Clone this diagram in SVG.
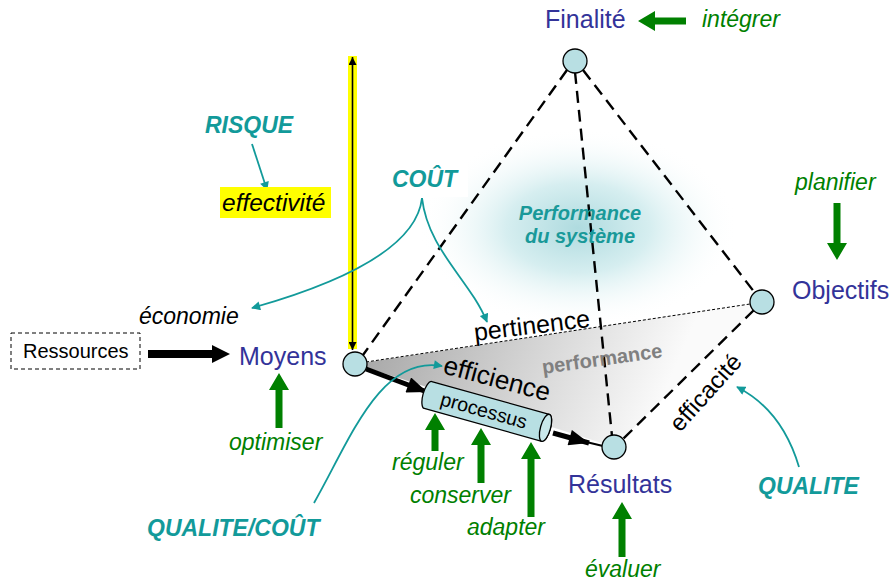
<svg xmlns="http://www.w3.org/2000/svg" width="896" height="585" viewBox="0 0 896 585">
<style>
.lbl{font-family:"Liberation Sans",Arial,sans-serif;font-size:25px;fill:#333399}
.grn{font-family:"Liberation Sans",Arial,sans-serif;font-size:23px;font-style:italic;fill:#008000}
.teal{font-family:"Liberation Sans",Arial,sans-serif;font-size:23px;font-style:italic;font-weight:bold;fill:#129a9a}
.perf{font-family:"Liberation Sans",Arial,sans-serif;font-size:20px;font-style:italic;font-weight:bold;fill:#199999}
.blk{font-family:"Liberation Sans",Arial,sans-serif;fill:#000}
.node{fill:#b8dfe3;stroke:#000;stroke-width:1.3}
.dash{fill:none;stroke:#000;stroke-width:2.4;stroke-dasharray:12 7}
.tline{fill:none;stroke:#129a9a;stroke-width:1.8;marker-end:url(#tArr)}
.garrow{fill:#008000}
</style>
<defs>
<marker id="tArr" viewBox="0 0 10 10" refX="9" refY="5" markerUnits="userSpaceOnUse" markerWidth="10" markerHeight="9" orient="auto"><path d="M0,0 L10,5 L0,10 z" fill="#129a9a"/></marker>
<marker id="bSmall" viewBox="0 0 10 10" refX="10" refY="5" markerUnits="userSpaceOnUse" markerWidth="10" markerHeight="8" orient="auto-start-reverse"><path d="M0,0 L10,5 L0,10 z" fill="#000"/></marker>
<marker id="bBig" viewBox="0 0 20 16" refX="20" refY="8" markerUnits="userSpaceOnUse" markerWidth="21" markerHeight="16" orient="auto"><path d="M0,0 L20,8 L0,16 z" fill="#000"/></marker>
<radialGradient id="glow" cx="0.5" cy="0.5" r="0.5">
<stop offset="0" stop-color="#afdbdf"/>
<stop offset="0.45" stop-color="#d6eef0"/>
<stop offset="1" stop-color="#ffffff" stop-opacity="0"/>
</radialGradient>
<linearGradient id="grey" x1="360" y1="330" x2="640" y2="450" gradientUnits="userSpaceOnUse">
<stop offset="0" stop-color="#a4a4a4"/>
<stop offset="0.5" stop-color="#d0d0d0"/>
<stop offset="1" stop-color="#fafafa"/>
</linearGradient>
</defs>
<rect width="896" height="585" fill="#fff"/>

<g id="background">
<ellipse cx="578" cy="228" rx="160" ry="100" fill="url(#glow)"/>
<path d="M355,364 L762,302 L614,447 Z" fill="url(#grey)"/>
<rect x="383" y="163" width="85" height="34" fill="#fff"/>
</g>

<g id="connectors">
<line class="dash" x1="567" y1="70" x2="363" y2="355"/>
<line class="dash" x1="583" y1="70" x2="755" y2="293"/>
<line class="dash" x1="575" y1="72" x2="612" y2="436"/>
<line class="dash" x1="754" y1="310" x2="622" y2="440"/>
<line x1="366" y1="362" x2="750" y2="304" stroke="#000" stroke-width="1" stroke-dasharray="3 2"/>
<rect x="348" y="56" width="9" height="293" fill="#ffff00"/>
<line x1="352.5" y1="57" x2="352.5" y2="350" stroke="#000" stroke-width="1.6" marker-start="url(#bSmall)" marker-end="url(#bSmall)"/>
<line x1="366" y1="369" x2="427" y2="392" stroke="#000" stroke-width="5" marker-end="url(#bBig)"/>
<line x1="553" y1="433" x2="589" y2="443" stroke="#000" stroke-width="5" marker-end="url(#bBig)"/>
<line x1="582" y1="441" x2="603" y2="446" stroke="#000" stroke-width="2"/>
<path d="M148,350 L212,350 L212,345 L230,354 L212,363 L212,358 L148,358 Z" fill="#000"/>
<path class="tline" d="M252,144 L267,190"/>
<path class="tline" d="M422,198 Q415,262 252,308"/>
<path class="tline" d="M422,198 C428,250 470,280 487,322"/>
<path class="tline" d="M314,503 C350,440 380,355 442,366"/>
<path class="tline" d="M799,467 Q782,410 737,387"/>
<path class="garrow" d="M279,373 L289,390 L282.5,390 L282.5,428 L275.5,428 L275.5,390 L269,390 Z"/>
<path class="garrow" d="M435,413 L445,430 L438.5,430 L438.5,451 L431.5,451 L431.5,430 L425,430 Z"/>
<path class="garrow" d="M481,428 L491,445 L484.5,445 L484.5,483 L477.5,483 L477.5,445 L471,445 Z"/>
<path class="garrow" d="M531,442 L541,459 L534.5,459 L534.5,517 L527.5,517 L527.5,459 L521,459 Z"/>
<path class="garrow" d="M622,502 L632,519 L625.5,519 L625.5,557 L618.5,557 L618.5,519 L612,519 Z"/>
<path class="garrow" d="M837,260 L827,243 L833.5,243 L833.5,203 L840.5,203 L840.5,243 L847,243 Z"/>
<path class="garrow" d="M638,21 L655,11 L655,17.5 L686,17.5 L686,24.5 L655,24.5 L655,31 Z"/>
</g>

<g id="node-finalite">
<circle class="node" cx="575" cy="61" r="12"/>
<text class="lbl" x="545" y="28">Finalité</text>
</g>
<g id="node-moyens">
<circle class="node" cx="355" cy="364" r="12"/>
<text class="lbl" x="239" y="365">Moyens</text>
</g>
<g id="node-objectifs">
<circle class="node" cx="762" cy="302" r="12"/>
<text class="lbl" x="792" y="299">Objectifs</text>
</g>
<g id="node-resultats">
<circle class="node" cx="614" cy="447" r="12"/>
<text class="lbl" x="568" y="493">Résultats</text>
</g>
<g id="node-ressources">
<rect x="11" y="333" width="129" height="36" fill="#fff" stroke="#000" stroke-width="1" stroke-dasharray="4 3"/>
<text class="blk" x="23" y="358" font-size="20">Ressources</text>
</g>
<g id="node-processus" transform="translate(428,395) rotate(15.6)">
<path d="M0,-14 L122,-14 A5,14 0 0 1 122,14 L0,14 A5,14 0 0 1 0,-14 Z" fill="#b8dfe3" stroke="#000" stroke-width="1.3"/>
<ellipse cx="122" cy="0" rx="5" ry="14" fill="#c9e8eb" stroke="#000" stroke-width="1.3"/>
<text class="blk" x="58" y="6.5" font-size="19.5" text-anchor="middle">processus</text>
</g>
<g id="node-effectivite">
<rect x="220" y="187" width="111" height="31" fill="#ffff00"/>
<text class="blk" x="222" y="211" font-size="24.5" font-style="italic">effectivité</text>
</g>

<g id="labels">
<text class="grn" x="702" y="27">intégrer</text>
<text class="grn" x="795" y="190">planifier</text>
<text class="grn" x="229" y="450">optimiser</text>
<text class="grn" x="392" y="470">réguler</text>
<text class="grn" x="410" y="503">conserver</text>
<text class="grn" x="467" y="535">adapter</text>
<text class="grn" x="585" y="577">évaluer</text>
<text class="teal" x="205" y="133">RISQUE</text>
<text class="teal" x="392" y="187">COÛT</text>
<text class="teal" x="147" y="536">QUALITE/COÛT</text>
<text class="teal" x="758" y="494">QUALITE</text>
<text class="perf" x="580" y="220" text-anchor="middle">Performance</text>
<text class="perf" x="580" y="243" text-anchor="middle">du système</text>
<text class="blk" x="139" y="324" font-size="23" font-style="italic">économie</text>
<text class="blk" font-size="25" transform="translate(475,341) rotate(-7)">pertinence</text>
<text class="blk" font-size="26" transform="translate(442,373) rotate(15)">efficience</text>
<text font-family="Liberation Sans, Arial, sans-serif" font-size="20" font-weight="bold" fill="#808080" transform="translate(543,374) rotate(-8)">performance</text>
<text class="blk" font-size="24" transform="translate(680,433) rotate(-48)">efficacité</text>
</g>
</svg>
